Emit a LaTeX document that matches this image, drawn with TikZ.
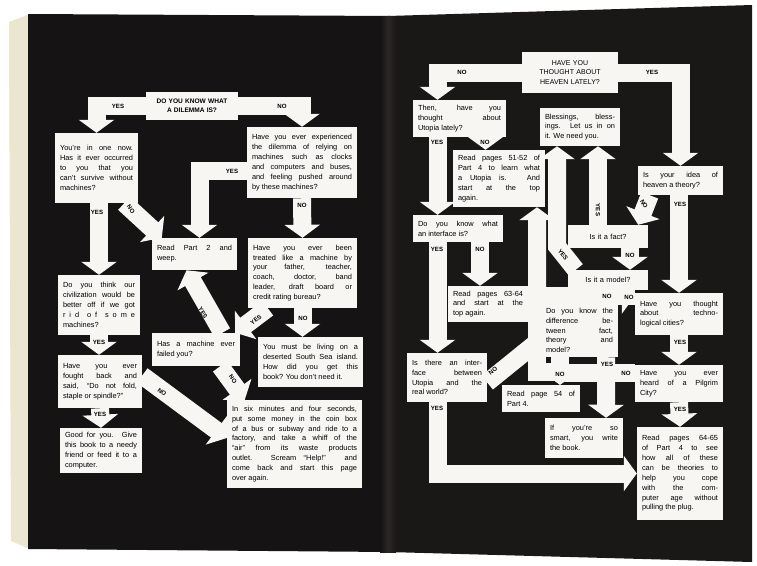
\documentclass[tikz,border=0pt]{standalone}
\usepackage{fontspec}
\setmainfont{Liberation Sans}
\usetikzlibrary{arrows.meta,calc}
\pgfdeclarelayer{back}
\pgfdeclarelayer{bands}
\pgfsetlayers{back,bands,main}

\definecolor{pageblack}{HTML}{151313}
\definecolor{pageblackR}{HTML}{1A1817}
\definecolor{pageedge}{HTML}{ECE5CF}
\definecolor{gutter}{HTML}{2A2725}
\definecolor{boxwhite}{HTML}{F7F6F2}

\tikzset{
  qbox/.style={fill=boxwhite, text=black, align=justify, font=\fontsize{6.3}{8.4}\selectfont, inner xsep=1.5mm, inner ysep=1.2mm},
  capbox/.style={qbox, align=center, font=\fontsize{6}{8.2}\selectfont},
  flow/.style={draw=boxwhite, line width=5.4mm, line join=miter},
  arr/.style={flow, -{Triangle[width=10.5mm,length=3.9mm]}},
  lbl/.style={text=black, font=\fontsize{5.2}{6}\selectfont\bfseries, inner sep=0pt},
}

\begin{document}
\begin{tikzpicture}[x=0.3mm, y=-0.3mm]

    \useasboundingbox (0,0) rectangle (757,565);

    % Pages
    \begin{pgfonlayer}{back}
        \fill[white] (0,0) rectangle (757,565);
        \fill[pageedge] (9,22) -- (30,14) -- (30,549) -- (11,541) -- cycle;
        \fill[pageblack] (28,14) -- (390,16) -- (390,552) -- (28,549) -- cycle;
        \fill[pageblackR] (388,16) -- (752,5) -- (752,562) -- (388,552) -- cycle;
        \shade[left color=pageblack, right color=pageblackR, middle color=gutter] (380,16) rectangle (396,552);
    \end{pgfonlayer}

    % Nodes, left page
    \node[capbox, font=\fontsize{5.6}{7.6}\selectfont\bfseries, text width=26.4mm, inner xsep=0.5mm, minimum height=8.4mm] (dilemma) at (192,106) {DO YOU KNOW WHAT\\A DILEMMA IS?};
    \node[qbox, text width=21.9mm, minimum height=21mm] (oneNow) at (96.5,168) {You're in one now.\linebreak Has it ever occurred\linebreak to you that you\linebreak can't survive without\linebreak machines?};
    \node[qbox, text width=30mm, minimum height=21.3mm] (relying) at (302,162.5) {Have you ever experienced\linebreak the dilemma of relying on\linebreak machines such as clocks\linebreak and computers and buses,\linebreak and feeling pushed around\linebreak by these machines?};
    \node[qbox, text width=22.5mm, minimum height=9.6mm] (weep) at (194.5,254) {Read Part 2 and\linebreak weep.};
    \node[qbox, text width=21.6mm, minimum height=18mm] (civil) at (99,305) {Do you think our\linebreak civilization would be\linebreak better off if we got\linebreak r i d \ o f \ s o m e\linebreak machines?};
    \node[qbox, text width=29.7mm, minimum height=21mm] (treated) at (302.5,273) {Have you ever been\linebreak treated like a machine by\linebreak your father, teacher,\linebreak coach, doctor, band\linebreak leader, draft board or\linebreak credit rating bureau?};
    \node[qbox, text width=23.4mm, minimum height=9.9mm] (failed) at (196,349.5) {Has a machine ever\linebreak failed you?};
    \node[qbox, text width=28.5mm, minimum height=15mm] (island) at (310.5,362) {You must be living on a\linebreak deserted South Sea island.\linebreak How did you get this\linebreak book? You don't need it.};
    \node[qbox, text width=22.2mm, minimum height=15.9mm] (fought) at (100,381.5) {Have you ever\linebreak fought back and\linebreak said, ``Do not fold,\linebreak staple or spindle?''};
    \node[qbox, text width=21.6mm, minimum height=13.5mm] (goodFor) at (101,450.5) {Good for you. Give\linebreak this book to a needy\linebreak friend or feed it to a\linebreak computer.};
    \node[qbox, text width=37.5mm, minimum height=26.4mm] (sixMin) at (294.5,444) {In six minutes and four seconds,\linebreak put some money in the coin box\linebreak of a bus or subway and ride to a\linebreak factory, and take a whiff of the\linebreak ``air'' from its waste products\linebreak outlet. Scream ``Help!'' and\linebreak come back and start this page\linebreak over again.};

    % Nodes, right page
    \node[capbox, text width=25.8mm, minimum height=12.3mm] (heaven) at (570,72.5) {HAVE YOU\\THOUGHT ABOUT\\HEAVEN LATELY?};
    \node[qbox, text width=24.9mm, minimum height=11.1mm] (utopia) at (459.5,118.5) {Then, have you\linebreak thought about\linebreak Utopia lately?};
    \node[qbox, text width=24.6mm, minimum height=17.1mm] (readA) at (499,178.5) {Read pages 51-52 of\linebreak Part 4 to learn what\linebreak a Utopia is. And\linebreak start at the top\linebreak again.};
    \node[qbox, text width=21mm, minimum height=11.4mm] (bless) at (580,127) {Blessings, bless-\linebreak ings. Let us in on\linebreak it. We need you.};
    \node[qbox, text width=22.5mm, minimum height=8.7mm] (theory) at (680.5,180.5) {Is your idea of\linebreak heaven a theory?};
    \node[qbox, text width=24mm, minimum height=8.1mm] (iface) at (458,228.5) {Do you know what\linebreak an interface is?};
    \node[capbox, font=\fontsize{6.3}{8.4}\selectfont, text width=21mm, minimum height=6.9mm] (fact) at (608,236.5) {Is it a fact?};
    \node[capbox, font=\fontsize{6.3}{8.4}\selectfont, text width=21mm, minimum height=6mm] (model) at (608,280) {Is it a model?};
    \node[qbox, text width=21mm, minimum height=10.8mm] (readB) at (488,304) {Read pages 63-64\linebreak and start at the\linebreak top again.};
    \node[qbox, text width=20.1mm, minimum height=15.9mm] (diff) at (579.5,330.5) {Do you know the\linebreak difference be-\linebreak tween fact,\linebreak theory and\linebreak model?};
    \node[qbox, text width=23.4mm, minimum height=12.6mm] (techno) at (679,314) {Have you thought\linebreak about techno-\linebreak logical cities?};
    \node[qbox, text width=21mm, minimum height=14.7mm] (realw) at (447,377.5) {Is there an inter-\linebreak face between\linebreak Utopia and the\linebreak real world?};
    \node[qbox, text width=20.4mm, minimum height=8.1mm] (readC) at (541,398.5) {Read page 54 of\linebreak Part 4.};
    \node[qbox, text width=20.4mm, minimum height=12mm] (smart) at (584,438) {If you're so\linebreak smart, you write\linebreak the book.};
    \node[qbox, text width=23.4mm, minimum height=11.1mm] (pilgrim) at (679,383.5) {Have you ever\linebreak heard of a Pilgrim\linebreak City?};
    \node[qbox, text width=22.8mm, minimum height=27.9mm] (readD) at (680,473.5) {Read pages 64-65\linebreak of Part 4 to see\linebreak how all of these\linebreak can be theories to\linebreak help you cope\linebreak with the com-\linebreak puter age without\linebreak pulling the plug.};

    % Arrows
    \begin{pgfonlayer}{bands}
        % left page
        \draw[arr] (dilemma.west) -| (oneNow.north);
        \draw[arr] (dilemma.east) -| (relying.north);
        \draw[arr] (civil.north |- oneNow.south) -- (civil.north);
        \draw[arr] ($(oneNow.south east)+(-14,0)$) -- ($(weep.north west)+(10,0)$);
        \draw[arr] ($(relying.west)+(0,8)$) -| ($(weep.north)+(5,0)$);
        \draw[arr] (relying.south) -- (treated.north);
        \draw[arr] ($(treated.south west)+(20,0)$) -- ($(failed.north east)+(-5,0)$);
        \draw[arr] ($(failed.north east)+(-18,0)$) -- ($(weep.south)+(-8,0)$);
        \draw[arr] (treated.south) -- (treated.south |- island.north);
        \draw[arr] (civil.south) -- (civil.south |- fought.north);
        \draw[arr] (fought.south) -- (goodFor.north);
        \draw[arr] ($(fought.east)+(0,-6)$) -- ($(sixMin.west)+(0,-6)$);
        \draw[arr] ($(failed.south east)+(-20,0)$) -- ($(sixMin.north west)+(18,0)$);
        % right page
        \draw[arr] (heaven.west) -| ($(utopia.north)+(-22,0)$);
        \draw[arr] (heaven.east) -| (theory.north);
        \draw[arr] ($(utopia.south)+(-22,0)$) -- ($(iface.north)+(-20.5,0)$);
        \draw[arr] ($(utopia.south)+(26,0)$) -- ($(readA.north)+(-13.5,0)$);
        \draw[arr] ($(iface.south)+(-20.5,0)$) -- ($(realw.north)+(-9.5,0)$);
        \draw[arr] ($(iface.south)+(22,0)$) -- ($(readB.north)+(-8,0)$);
        \draw[arr] ($(theory.south west)+(12,0)$) -- ($(fact.north east)+(-10,0)$);
        \draw[arr] (techno.north |- theory.south) -- (techno.north);
        \draw[arr] ($(fact.north)+(-10,0)$) -- ($(bless.south)+(18,0)$);
        \draw[arr] ($(fact.south)+(22,0)$) -- ($(model.north)+(22,0)$);
        \draw[arr] ($(model.north west)+(8,0)$) -- ($(bless.south)+(-23,100)$) -- ($(bless.south)+(-23,0)$);
        \draw[flow] ($(techno.west)+(0,-18)$) -- ($(readB.east)+(0,-8)$);
        \draw[arr] (model.south) |- ($(techno.west)+(0,-18)$);
        \draw[arr] ($(realw.east)+(0,5)$) -- ($(readA.south)+(38,135)$) -- ($(readA.south)+(38,0)$);
        \draw[flow] ($(readA.south)+(38,135)$) |- ($(readC.north)+(19,-13)$);
        \draw[arr] ($(diff.south)+(-19.5,0)$) -- ($(readC.north)+(19,0)$);
        \draw[arr] ($(pilgrim.west)+(0,-11)$) -| ($(readC.north)+(19,0)$);
        \draw[arr] ($(diff.south east)+(-12,0)$) -- ($(smart.north)+(22,0)$);
        \draw[arr] (techno.south) -- (pilgrim.north);
        \draw[arr] (pilgrim.south) -- (readD.north);
        \draw[arr] ($(realw.south)+(-9.5,0)$) |- (readD.west);
    \end{pgfonlayer}

    % Labels, left page
    \node[lbl] (yesA) at (118,106) {YES};
    \node[lbl] (noA) at (282,106) {NO};
    \node[lbl] (yesB) at (97,212) {YES};
    \node[lbl, rotate=-55] (noB) at (131,209) {NO};
    \node[lbl] (yesC) at (232,171) {YES};
    \node[lbl] (noC) at (302,205) {NO};
    \node[lbl, rotate=-60] (yesD) at (203,313) {YES};
    \node[lbl, rotate=37] (yesE) at (256,320) {YES};
    \node[lbl] (noD) at (303,318) {NO};
    \node[lbl] (yesF) at (99,342) {YES};
    \node[lbl] (yesG) at (100,414) {YES};
    \node[lbl, rotate=-35] (noE) at (162,392) {NO};
    \node[lbl, rotate=-54] (noF) at (233,379) {NO};

    % Labels, right page
    \node[lbl] (noG) at (462,72) {NO};
    \node[lbl] (yesH) at (652,72) {YES};
    \node[lbl] (yesI) at (437,142) {YES};
    \node[lbl] (noH) at (485,142) {NO};
    \node[lbl] (yesJ) at (437,249) {YES};
    \node[lbl] (noI) at (480,249) {NO};
    \node[lbl, rotate=-60] (noJ) at (644,204) {NO};
    \node[lbl] (yesK) at (680,204) {YES};
    \node[lbl, rotate=-90] (yesL) at (598,210) {YES};
    \node[lbl] (noK) at (630,255) {NO};
    \node[lbl, rotate=-52] (yesM) at (563,255) {YES};
    \node[lbl] (noL) at (607,296) {NO};
    \node[lbl] (noM) at (629,297) {NO};
    \node[lbl, rotate=38] (noN) at (493,371) {NO};
    \node[lbl] (noO) at (560,374) {NO};
    \node[lbl] (noP) at (626,373) {NO};
    \node[lbl] (yesN) at (607,364) {YES};
    \node[lbl] (yesO) at (680,342) {YES};
    \node[lbl] (yesP) at (680,409) {YES};
    \node[lbl] (yesQ) at (437,408) {YES};

\end{tikzpicture}
\end{document}
